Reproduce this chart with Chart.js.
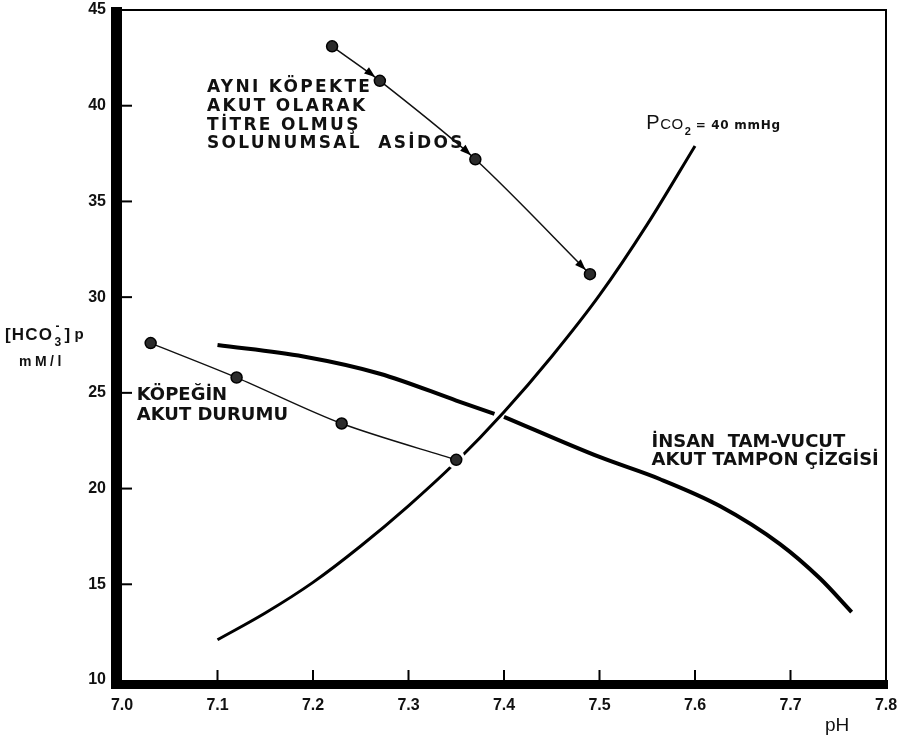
<!DOCTYPE html>
<html>
<head>
<meta charset="utf-8">
<script src="https://cdn.jsdelivr.net/npm/chart.js@4.4.0/dist/chart.umd.min.js"></script>
<style>
  html, body { margin: 0; padding: 0; background: #fff; }
  canvas { display: block; }
</style>
</head>
<body>
<canvas id="chart" width="904" height="738"></canvas>
<script>
// Axis tick labels
const xTickLabels = ['7.0', '7.1', '7.2', '7.3', '7.4', '7.5', '7.6', '7.7', '7.8'];
const yTickLabels = ['10', '15', '20', '25', '30', '35', '40', '45'];

// Acutely titrated respiratory acidosis in the same dog
const titratedPH   = [7.22, 7.27, 7.37, 7.49];
const titratedHCO3 = [43.1, 41.3, 37.2, 31.2];

// The dog's acute state
const acutePH   = [7.03, 7.12, 7.23, 7.35];
const acuteHCO3 = [27.6, 25.8, 23.4, 21.5];

// PCO2 = 40 mmHg isobar
const isobarPH   = [7.10, 7.15, 7.20, 7.25, 7.30, 7.35, 7.40, 7.45, 7.50, 7.55, 7.60];
const isobarHCO3 = [12.1, 13.5, 15.1, 17.0, 19.1, 21.4, 24.0, 26.9, 30.1, 33.8, 37.9];

// Human whole-body acute buffer line (broken where it passes under the isobar)
const bufferPH   = [7.10, 7.19, 7.27, 7.35, 7.39, 7.395, 7.40, 7.50, 7.563, 7.626, 7.689, 7.731, 7.764];
const bufferHCO3 = [27.5, 26.9, 26.0, 24.6, 23.9, null, 23.75, 21.65, 20.5, 19.09, 17.1, 15.3, 13.55];

const toPoints = (xs, ys) => xs.map((x, i) => ({ x: x, y: ys[i] }));

// Text notes placed in data coordinates (left edge, first baseline)
const notes = [
  { lines: ['AYNI KÖPEKTE', 'AKUT OLARAK', 'TİTRE OLMUŞ', 'SOLUNUMSAL  ASİDOS'],
    at: [7.089, 40.72], lineHeight: 18.8, font: 'bold 17px "DejaVu Sans"', spacing: 2.3 },
  { lines: ['KÖPEĞİN', 'AKUT DURUMU'],
    at: [7.0154, 24.63], lineHeight: 20, font: 'bold 18px "DejaVu Sans"', spacing: 0 },
  { lines: ['İNSAN  TAM-VUCUT', 'AKUT TAMPON ÇİZGİSİ'],
    at: [7.5544, 22.19], lineHeight: 18.3, font: 'bold 18px "DejaVu Sans"', spacing: 0 }
];

function drawSpaced(ctx, text, x, y, spacing) {
  if ('letterSpacing' in ctx) {
    ctx.letterSpacing = spacing + 'px';
    ctx.fillText(text, x, y);
    ctx.letterSpacing = '0px';
  } else {
    let cx = x;
    for (const ch of text) { ctx.fillText(ch, cx, y); cx += ctx.measureText(ch).width + spacing; }
  }
}

// White page, axis frame and inward tick marks
const framePlugin = {
  id: 'frame',
  beforeDraw(chart) {
    const ctx = chart.ctx;
    ctx.save();
    ctx.fillStyle = '#fff';
    ctx.fillRect(0, 0, chart.width, chart.height);
    ctx.restore();
  },
  beforeDatasetsDraw(chart) {
    const { ctx, chartArea: a, scales } = chart;
    const xs = scales.x, ys = scales.y;
    ctx.save();
    ctx.fillStyle = '#000';
    ctx.fillRect(a.left, a.top - 1, a.right - a.left + 1, 2);          // top edge
    ctx.fillRect(a.right - 1, a.top - 1, 2, a.bottom - a.top + 9);      // right edge
    ctx.fillRect(a.left - 11, a.top - 3, 11, a.bottom - a.top + 12);   // heavy left axis
    ctx.fillRect(a.left - 11, a.bottom, a.right - a.left + 13, 9);     // heavy bottom axis
    xs.ticks.forEach((t, i) => {
      if (i === 0 || i === xs.ticks.length - 1) return;
      const px = xs.getPixelForValue(t.value);
      ctx.fillRect(px - 1, a.bottom - 10, 2, 10);
    });
    ys.ticks.forEach((t, i) => {
      if (i === 0 || i === ys.ticks.length - 1) return;
      const py = ys.getPixelForValue(t.value);
      ctx.fillRect(a.left, py - 1, 10, 2);
    });
    ctx.restore();
  }
};

// Arrowheads leading into each titration point
const arrowPlugin = {
  id: 'arrows',
  afterDatasetsDraw(chart) {
    const meta = chart.getDatasetMeta(0);
    const ctx = chart.ctx;
    const r = 5.5;
    ctx.save();
    ctx.fillStyle = '#000';
    for (let i = 1; i < meta.data.length; i++) {
      const p = meta.data[i];
      const q = meta.data[i - 1];
      let cx = p.cp1x, cy = p.cp1y;
      if (cx === undefined || (Math.abs(cx - p.x) < 0.5 && Math.abs(cy - p.y) < 0.5)) { cx = q.x; cy = q.y; }
      let dx = p.x - cx, dy = p.y - cy;
      const len = Math.hypot(dx, dy);
      dx /= len; dy /= len;
      const tx = p.x - dx * (r + 0.5), ty = p.y - dy * (r + 0.5);
      const bx = tx - dx * 11, by = ty - dy * 11;
      ctx.beginPath();
      ctx.moveTo(tx, ty);
      ctx.lineTo(bx - dy * 4, by + dx * 4);
      ctx.lineTo(bx + dy * 4, by - dx * 4);
      ctx.closePath();
      ctx.fill();
    }
    ctx.restore();
  }
};

// Annotations and axis titles
const textPlugin = {
  id: 'texts',
  afterDraw(chart) {
    const { ctx, scales, chartArea: a } = chart;
    const xs = scales.x, ys = scales.y;
    ctx.save();
    ctx.fillStyle = '#111';
    ctx.textAlign = 'left';
    ctx.textBaseline = 'alphabetic';
    notes.forEach(n => {
      ctx.font = n.font;
      const x0 = xs.getPixelForValue(n.at[0]);
      const y0 = ys.getPixelForValue(n.at[1]);
      n.lines.forEach((line, i) => drawSpaced(ctx, line, x0, y0 + i * n.lineHeight, n.spacing));
    });

    // PCO2 = 40 mmHg label
    let px = xs.getPixelForValue(7.549), py = ys.getPixelForValue(38.76);
    ctx.font = '20px "Liberation Sans"';
    ctx.fillText('P', px, py);
    px += ctx.measureText('P').width + 0.5;
    ctx.font = '15px "Liberation Sans"';
    drawSpaced(ctx, 'CO', px, py, 0.5);
    px += ctx.measureText('CO').width + 2;
    ctx.font = 'bold 11px "Liberation Sans"';
    ctx.fillText('2', px, py + 6);
    px += 11;
    ctx.font = 'bold 12px "DejaVu Sans"';
    drawSpaced(ctx, '= 40 mmHg', px, py, 0.7);

    // y-axis title
    let tx = 5, tb = 340;
    ctx.font = 'bold 17px "Liberation Sans"';
    drawSpaced(ctx, '[HCO', tx, tb, 1.2);
    tx += ctx.measureText('[HCO').width + 5 + 1;
    ctx.font = 'bold 12px "Liberation Sans"';
    ctx.fillText('3', tx, tb + 6);
    ctx.fillText('-', tx + 1, tb - 10);
    tx += 10;
    ctx.font = 'bold 17px "Liberation Sans"';
    ctx.fillText(']', tx, tb);
    tx += 10;
    ctx.font = 'bold 15px "Liberation Sans"';
    ctx.fillText('p', tx, tb - 1);
    ctx.font = 'bold 14px "Liberation Sans"';
    drawSpaced(ctx, 'mM/l', 19, 366, 3.5);

    // x-axis title
    ctx.font = '19px "Liberation Sans"';
    ctx.fillText('pH', a.right - 61, 731);
    ctx.restore();
  }
};

const pointStyle = {
  pointRadius: 5.5,
  pointBackgroundColor: '#2b2b2b',
  pointBorderColor: '#000',
  pointBorderWidth: 1.5,
  pointHoverRadius: 5.5
};

new Chart(document.getElementById('chart'), {
  type: 'scatter',
  data: {
    datasets: [
      Object.assign({
        label: 'Aynı köpekte akut olarak titre olmuş solunumsal asidos',
        data: toPoints(titratedPH, titratedHCO3),
        showLine: true, borderColor: '#111', borderWidth: 1.5, tension: 0.3, order: 0
      }, pointStyle),
      Object.assign({
        label: 'Köpeğin akut durumu',
        data: toPoints(acutePH, acuteHCO3),
        showLine: true, borderColor: '#111', borderWidth: 1.4, tension: 0.3, order: 1
      }, pointStyle),
      {
        label: 'halo',
        data: toPoints(acutePH, acuteHCO3),
        showLine: false, pointRadius: 9.5, pointHoverRadius: 9.5,
        pointBackgroundColor: '#fff', pointBorderWidth: 0, order: 2
      },
      {
        label: 'PCO2 = 40 mmHg',
        data: toPoints(isobarPH, isobarHCO3),
        showLine: true, borderColor: '#000', borderWidth: 3, pointRadius: 0,
        cubicInterpolationMode: 'monotone', order: 3
      },
      {
        label: 'İnsan tam-vücut akut tampon çizgisi',
        data: toPoints(bufferPH, bufferHCO3),
        showLine: true, borderColor: '#000', borderWidth: 4, pointRadius: 0,
        cubicInterpolationMode: 'monotone', spanGaps: false, borderCapStyle: 'butt', order: 4
      }
    ]
  },
  options: {
    responsive: false,
    animation: false,
    events: [],
    layout: { padding: { top: 10, right: 18, left: 0, bottom: 0 } },
    plugins: { legend: { display: false }, tooltip: { enabled: false } },
    scales: {
      x: {
        type: 'linear', min: 7.0, max: 7.8,
        grid: { display: false, drawTicks: false },
        border: { display: false },
        ticks: {
          stepSize: 0.1, padding: 16, color: '#111', maxRotation: 0, autoSkip: false,
          font: { family: '"Liberation Sans"', size: 16, weight: 'bold' },
          callback: (v, i) => xTickLabels[i]
        },
        afterFit: s => { s.height = 58; s.paddingLeft = 0; s.paddingRight = 0; }
      },
      y: {
        type: 'linear', min: 10, max: 45,
        grid: { display: false, drawTicks: false },
        border: { display: false },
        ticks: {
          stepSize: 5, padding: 16, color: '#111',
          font: { family: '"Liberation Sans"', size: 16, weight: 'bold' },
          callback: (v, i) => yTickLabels[i]
        },
        afterFit: s => { s.width = 122; s.paddingTop = 0; s.paddingBottom = 0; }
      }
    }
  },
  plugins: [framePlugin, arrowPlugin, textPlugin]
});
</script>
</body>
</html>
